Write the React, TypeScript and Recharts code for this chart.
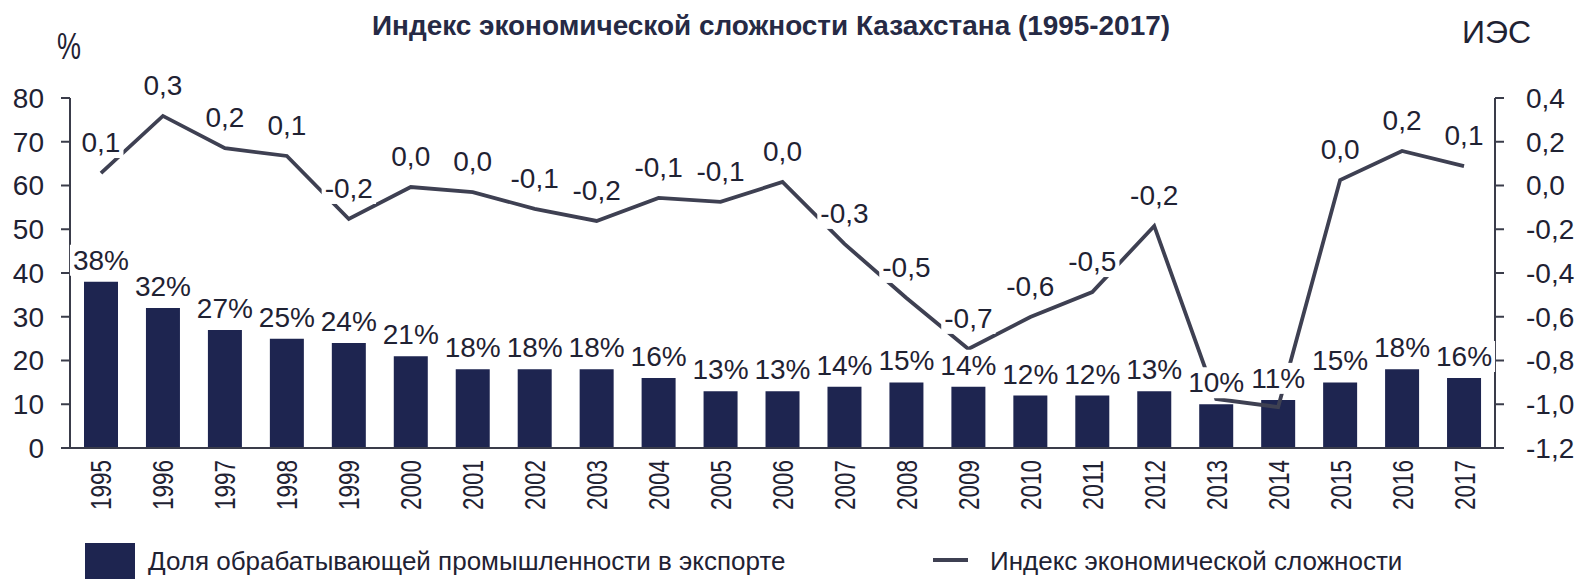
import { Bar, ComposedChart, LabelList, Line, XAxis, YAxis } from "recharts";

const years = [
  "1995", "1996", "1997", "1998", "1999", "2000", "2001", "2002", "2003", "2004", "2005", "2006",
  "2007", "2008", "2009", "2010", "2011", "2012", "2013", "2014", "2015", "2016", "2017",
];
// доля обрабатывающей промышленности в экспорте, %
const shareValues = [38, 32, 27, 25, 24, 21, 18, 18, 18, 16, 13, 13, 14, 15, 14, 12, 12, 13, 10, 11, 15, 18, 16];
// индекс экономической сложности
const iesValues = [
  0.057, 0.318, 0.171, 0.135, -0.153, -0.007, -0.03, -0.107, -0.162, -0.057, -0.075, 0.016,
  -0.267, -0.514, -0.747, -0.601, -0.487, -0.185, -0.976, -1.013, 0.025, 0.158, 0.089,
];
// подписи точек линии (на 2013 и 2014 подписей нет)
const iesLabels = [
  "0,1", "0,3", "0,2", "0,1", "-0,2", "0,0", "0,0", "-0,1", "-0,2", "-0,1", "-0,1", "0,0",
  "-0,3", "-0,5", "-0,7", "-0,6", "-0,5", "-0,2", "", "", "0,0", "0,2", "0,1",
];
const leftTicks = [0, 10, 20, 30, 40, 50, 60, 70, 80];
const rightTicks = [-1.2, -1.0, -0.8, -0.6, -0.4, -0.2, 0, 0.2, 0.4];

const data = years.map((year, i) => ({
  year,
  share: shareValues[i],
  shareLabel: `${shareValues[i]}%`,
  ies: iesValues[i],
  iesLabel: iesLabels[i],
}));

const FONT = '"Liberation Sans", Arial, sans-serif';
const TEXT = "#1f2233";
const BAR = "#1e2550";
const LINE = "#3e4052";
const AXIS = "#3a3c4a";

const charWidth = (c: string) => {
  if (c === ",") return 7.8;
  if (c === "-") return 9.3;
  if (c === "%") return 24.9;
  return 15.6;
};
const textWidth = (s: string) => s.split("").reduce((acc, c) => acc + charWidth(c), 0);

function BoxedLabel(props: any, lift: number) {
  const { x, y, value } = props;
  if (!value || x == null || y == null) return null;
  const base = y - lift;
  const w = textWidth(String(value)) + 6;
  return (
    <g>
      <rect x={x - w / 2} y={base - 25} width={w} height={31} fill="#fff" />
      <text x={x} y={base} textAnchor="middle" fontSize={28} fontFamily={FONT} fill={TEXT}>
        {value}
      </text>
    </g>
  );
}

function YearTick({ x, y, payload }: any) {
  return (
    <text
      transform={`translate(${x},${y + 12}) rotate(-90)`}
      textAnchor="end"
      dominantBaseline="central"
      fontSize={30}
      fontFamily={FONT}
      fill={TEXT}
      textLength={50}
      lengthAdjust="spacingAndGlyphs"
    >
      {payload.value}
    </text>
  );
}

const fmtRight = (v: number) => {
  const r = Math.round(v * 10) / 10;
  return (r === 0 ? 0 : r).toFixed(1).replace(".", ",");
};

export default function App() {
  return (
    <div style={{ position: "absolute", left: 0, top: 0, width: 1577, height: 582, background: "#fff" }}>
      <ComposedChart width={1577} height={582} data={data} margin={{ top: 98, right: 0, left: 10, bottom: 0 }}>
        <XAxis
          dataKey="year"
          height={134}
          tickLine={false}
          tickSize={0}
          tickMargin={0}
          interval={0}
          stroke={AXIS}
          strokeWidth={2}
          tick={<YearTick />}
        />
        <YAxis
          yAxisId="left"
          domain={[0, 80]}
          ticks={leftTicks}
          width={60}
          stroke={AXIS}
          strokeWidth={2}
          tickSize={9}
          tickMargin={17}
          tick={{ fontSize: 28, fontFamily: FONT, fill: TEXT }}
        />
        <YAxis
          yAxisId="right"
          orientation="right"
          domain={[-1.2, 0.4]}
          ticks={rightTicks}
          width={82}
          stroke={AXIS}
          strokeWidth={2}
          tickSize={9}
          tickMargin={22}
          tickFormatter={fmtRight}
          tick={{ fontSize: 28, fontFamily: FONT, fill: TEXT, textAnchor: "start" }}
        />
        <Bar yAxisId="left" dataKey="share" fill={BAR} barSize={34} isAnimationActive={false} />
        <Line
          yAxisId="right"
          dataKey="ies"
          stroke={LINE}
          strokeWidth={3.8}
          dot={false}
          activeDot={false}
          isAnimationActive={false}
        >
          <LabelList dataKey="iesLabel" content={(p: any) => BoxedLabel(p, 21)} />
        </Line>
        <Line
          yAxisId="left"
          dataKey="share"
          stroke="none"
          dot={false}
          activeDot={false}
          legendType="none"
          isAnimationActive={false}
        >
          <LabelList dataKey="shareLabel" content={(p: any) => BoxedLabel(p, 12)} />
        </Line>
      </ComposedChart>
      <svg
        width={1577}
        height={582}
        style={{ position: "absolute", left: 0, top: 0, pointerEvents: "none" }}
        fontFamily={FONT}
      >
        <text x={372} y={35} fontSize={28} fontWeight="bold" fill="#262a45" textLength={798} lengthAdjust="spacingAndGlyphs">
          Индекс экономической сложности Казахстана (1995-2017)
        </text>
        <text x={57} y={59} fontSize={37} fill={TEXT} textLength={24} lengthAdjust="spacingAndGlyphs">
          %
        </text>
        <text x={1462} y={43} fontSize={32} fill={TEXT}>
          ИЭС
        </text>
        <rect x={85} y={543} width={50} height={36} fill={BAR} />
        <text x={148} y={570} fontSize={26} fill={TEXT}>
          Доля обрабатывающей промышленности в экспорте
        </text>
        <line x1={933} x2={968} y1={560} y2={560} stroke={LINE} strokeWidth={4} />
        <text x={990} y={570} fontSize={26} fill={TEXT}>
          Индекс экономической сложности
        </text>
      </svg>
    </div>
  );
}
